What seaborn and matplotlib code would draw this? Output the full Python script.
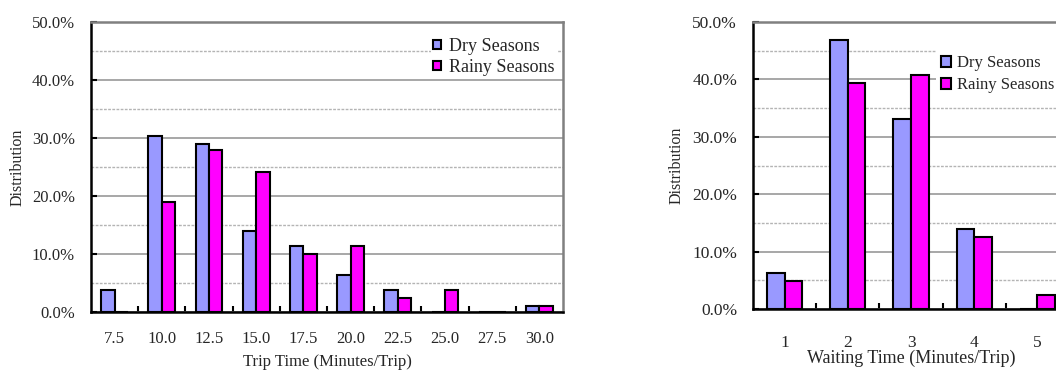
import numpy as np
import pandas as pd
import matplotlib
matplotlib.use("Agg")
import matplotlib.pyplot as plt
from matplotlib.ticker import MultipleLocator, FixedLocator, FuncFormatter
import seaborn as sns

# ---- data ----
trip_cats = ["7.5", "10.0", "12.5", "15.0", "17.5", "20.0", "22.5", "25.0", "27.5", "30.0"]
dry_trip = [3.8, 30.3, 29.0, 13.9, 11.4, 6.3, 3.8, 0.0, 0.0, 1.0]
rainy_trip = [0.0, 19.0, 27.9, 24.1, 10.0, 11.4, 2.5, 3.8, 0.0, 1.0]

wait_cats = ["1", "2", "3", "4", "5"]
dry_wait = [6.2, 46.9, 33.1, 13.9, 0.0]
rainy_wait = [4.8, 39.3, 40.7, 12.5, 2.4]

seasons = ["Dry Seasons", "Rainy Seasons"]
colors = ["#9999FF", "#FF00FF"]

sns.set_theme(style="white")
plt.rcParams["font.family"] = ["Liberation Serif", "DejaVu Serif"]


def long_df(cats, dry, rainy):
    return pd.DataFrame({
        "cat": list(cats) * 2,
        "val": list(dry) + list(rainy),
        "season": [seasons[0]] * len(cats) + [seasons[1]] * len(cats),
    })


fig = plt.figure(figsize=(10.56, 3.72), dpi=100)
W, H = 1056.0, 372.0


def ax_rect(x0, y0, x1, y1):
    return [x0 / W, 1 - y1 / H, (x1 - x0) / W, (y1 - y0) / H]


def style_axes(ax, n, xlabel, tick_fs, label_fs, ylab_x, xtick_pad):
    ax.set_ylim(0, 50)
    ax.set_xlim(-0.5, n - 0.5)
    ax.set_axisbelow(True)
    ax.yaxis.set_major_locator(MultipleLocator(10))
    ax.yaxis.set_minor_locator(MultipleLocator(5))
    ax.yaxis.set_major_formatter(FuncFormatter(lambda v, p: f"{v:.1f}%"))
    ax.grid(False)
    ax.yaxis.grid(True, which="major", color="#a0a0a0", lw=1.3, ls="-")
    ax.yaxis.grid(True, which="minor", color="#b4b4b4", lw=1.0, ls=(0, (2, 1)))
    ax.tick_params(axis="y", which="major", direction="in", length=4, width=1.5,
                   color="black", labelsize=tick_fs, pad=11.5, left=True)
    ax.tick_params(axis="y", which="minor", length=0)
    ax.xaxis.set_minor_locator(FixedLocator(np.arange(0.5, n - 1, 1.0)))
    ax.tick_params(axis="x", which="major", length=0, labelsize=tick_fs, pad=xtick_pad)
    ax.tick_params(axis="x", which="minor", direction="in", length=4, width=1.5,
                   color="black", bottom=True)
    for s in ["left", "bottom"]:
        ax.spines[s].set_color("black")
        ax.spines[s].set_linewidth(1.8)
    for s in ["top", "right"]:
        ax.spines[s].set_visible(True)
        ax.spines[s].set_color("#808080")
        ax.spines[s].set_linewidth(1.8)
    ax.set_xlabel(xlabel, fontsize=label_fs)
    ax.set_ylabel("Distribution", fontsize=11.5)
    ax.yaxis.set_label_coords(ylab_x, 0.5)


# ---- left chart ----
ax1 = fig.add_axes(ax_rect(91, 22, 563, 312))
df1 = long_df(trip_cats, dry_trip, rainy_trip)
sns.barplot(data=df1, x="cat", y="val", hue="season", order=trip_cats,
            hue_order=seasons, palette=colors, saturation=1, width=0.57,
            edgecolor="black", linewidth=1.5, ax=ax1)
style_axes(ax1, len(trip_cats), "Trip Time (Minutes/Trip)", 12, 12, -0.138, 14)
ax1.xaxis.set_label_coords(0.5, -0.145)
h, l = ax1.get_legend_handles_labels()
ax1.legend(h, l, loc="upper left", bbox_to_anchor=(0.721, 0.951), borderaxespad=0,
           borderpad=0.1, labelspacing=0.22, handlelength=0.45, handleheight=0.45,
           handletextpad=0.45, frameon=True, fancybox=False, framealpha=1,
           facecolor="white", edgecolor="none", fontsize=13)

# ---- right chart ----
ax2 = fig.add_axes(ax_rect(753, 22, 1069, 309))
df2 = long_df(wait_cats, dry_wait, rainy_wait)
sns.barplot(data=df2, x="cat", y="val", hue="season", order=wait_cats,
            hue_order=seasons, palette=colors, saturation=1, width=0.56,
            edgecolor="black", linewidth=1.5, ax=ax2)
style_axes(ax2, len(wait_cats), "Waiting Time (Minutes/Trip)", 12.5, 13, -0.218, 19)
ax2.xaxis.set_label_coords(0.5, -0.143)
h, l = ax2.get_legend_handles_labels()
ax2.legend(h, l, loc="upper left", bbox_to_anchor=(0.579, 0.902), borderaxespad=0,
           borderpad=0.3, labelspacing=0.36, handlelength=0.6, handleheight=0.6,
           handletextpad=0.35, frameon=True, fancybox=False, framealpha=1,
           facecolor="white", edgecolor="none", fontsize=12)

fig.savefig("out.png", dpi=100)
